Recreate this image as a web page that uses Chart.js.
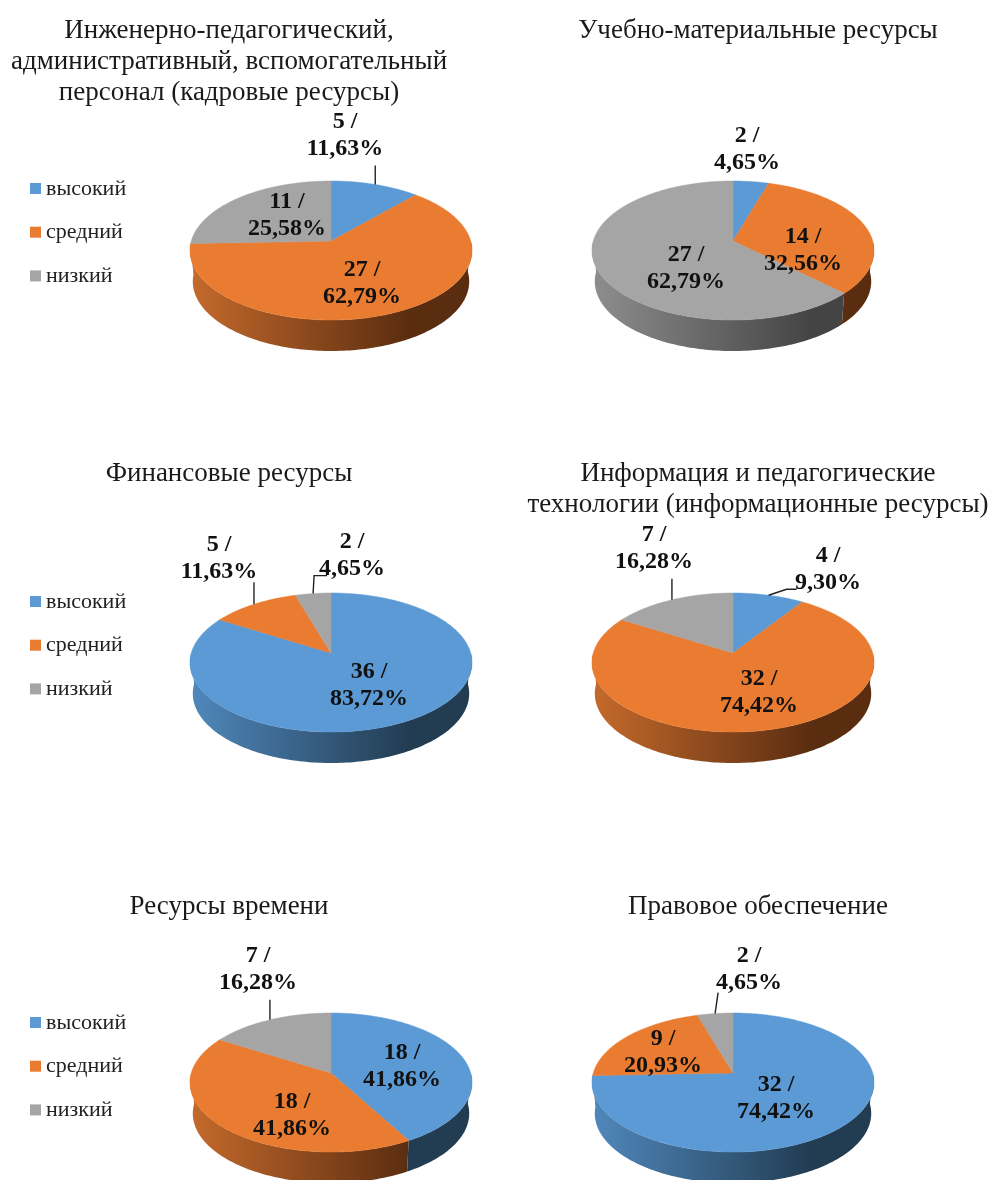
<!DOCTYPE html>
<html>
<head>
<meta charset="utf-8">
<script src="https://cdn.jsdelivr.net/npm/chart.js@4"></script>
<style>
html,body{margin:0;padding:0;background:#fff;overflow:hidden}
body{position:relative;width:992px;height:1180px}
canvas{position:absolute;filter:blur(.6px)}
</style>
</head>
<body>
<script>
const levels = ['высокий', 'средний', 'низкий'];

const staffValues = [5, 27, 11];
const materialValues = [2, 14, 27];
const financeValues = [36, 5, 2];
const infoValues = [4, 32, 7];
const timeValues = [18, 18, 7];
const legalValues = [32, 9, 2];

const staffTitle = ['Инженерно-педагогический,', 'административный, вспомогательный', 'персонал (кадровые ресурсы)'];
const materialTitle = ['Учебно-материальные ресурсы'];
const financeTitle = ['Финансовые ресурсы'];
const infoTitle = ['Информация и педагогические', 'технологии (информационные ресурсы)'];
const timeTitle = ['Ресурсы времени'];
const legalTitle = ['Правовое обеспечение'];

const colors = ['#5B9AD5', '#EA7C31', '#A5A5A5'];
const wallLight = ['#5088BC', '#C56A2C', '#8E8E8E'];
const wallDark = ['#223C52', '#5A2D10', '#444444'];

const FONT = '"Liberation Serif", "Times New Roman", serif';

// shape of the tilted pie
const RX = 139.7, RY = 68.2, PERSP = 0.137, DEPTH = 31, SHRINK = 0.98, OUTER = 141;

function project(cx, cy, angle) {
	const u = Math.cos(angle), v = -Math.sin(angle);
	const s = 1 / (1 + PERSP * v);
	return [cx + RX * u * s, cy - RY * v * s];
}

function arcPoints(cx, cy, a0, a1) {
	const pts = [];
	const steps = Math.max(2, Math.ceil((a1 - a0) / 0.02));
	for (let i = 0; i <= steps; i++) {
		pts.push(project(cx, cy, a0 + (a1 - a0) * i / steps));
	}
	return pts;
}

function tracePoints(ctx, pts) {
	pts.forEach((p, i) => i ? ctx.lineTo(p[0], p[1]) : ctx.moveTo(p[0], p[1]));
}

const tiltPie = {
	id: 'tiltPie',
	beforeDatasetsDraw(chart, args, opts) {
		const ctx = chart.ctx;
		const cx = opts.cx, cy = opts.cy;
		const arcs = chart.getDatasetMeta(0).data;
		const values = chart.data.datasets[0].data;
		const total = values.reduce((a, b) => a + b, 0);
		const angles = arcs.map(a => a.getProps(['startAngle', 'endAngle'], true));

		// side wall, only the front half of the rim shows
		arcs.forEach((a, i) => {
			const a0 = Math.max(angles[i].startAngle, 0);
			const a1 = Math.min(angles[i].endAngle, Math.PI);
			if (a1 <= a0) return;
			const top = arcPoints(cx, cy, a0, a1);
			const bottom = top.map(p => [cx + (p[0] - cx) * SHRINK, p[1] + DEPTH]).reverse();
			const grad = ctx.createLinearGradient(cx - OUTER, 0, cx + OUTER, 0);
			grad.addColorStop(0, wallLight[i]);
			grad.addColorStop(0.78, wallDark[i]);
			grad.addColorStop(1, wallDark[i]);
			ctx.beginPath();
			tracePoints(ctx, top.concat(bottom));
			ctx.closePath();
			ctx.fillStyle = grad;
			ctx.fill();
		});

		// top face
		arcs.forEach((a, i) => {
			ctx.beginPath();
			ctx.moveTo(cx, cy);
			arcPoints(cx, cy, angles[i].startAngle, angles[i].endAngle).forEach(p => ctx.lineTo(p[0], p[1]));
			ctx.closePath();
			ctx.fillStyle = colors[i];
			ctx.strokeStyle = colors[i];
			ctx.lineWidth = 0.5;
			ctx.fill();
			ctx.stroke();
		});

		// leader lines
		ctx.strokeStyle = '#222';
		ctx.lineWidth = 1.4;
		arcs.forEach((a, i) => {
			const bend = opts.leaders[i];
			if (!bend) return;
			const start = project(cx, cy, (angles[i].startAngle + angles[i].endAngle) / 2);
			ctx.beginPath();
			ctx.moveTo(start[0], start[1]);
			bend.forEach(b => ctx.lineTo(start[0] + b[0], start[1] + b[1]));
			ctx.stroke();
		});

		// value labels
		ctx.fillStyle = '#111';
		ctx.font = 'bold 24px ' + FONT;
		ctx.textAlign = 'center';
		ctx.textBaseline = 'middle';
		values.forEach((v, i) => {
			const pct = (v / total * 100).toFixed(2).replace('.', ',') + '%';
			const x = cx + opts.labels[i][0], y = cy + opts.labels[i][1];
			ctx.fillText(v + ' /', x, y - 13);
			ctx.fillText(pct, x, y + 14);
		});

		// legend
		if (opts.legendY !== null) {
			ctx.textAlign = 'left';
			chart.data.labels.forEach((label, i) => {
				const y = opts.legendY + i * 43.7;
				ctx.fillStyle = colors[i];
				ctx.fillRect(30, y - 6, 11, 11);
				ctx.fillStyle = '#222';
				ctx.font = '22px ' + FONT;
				ctx.fillText(label, 46, y);
			});
		}
		return false;
	}
};

function makePie(left, top, width, height, padRight, title, values, cx, cy, legendY, labels, leaders) {
	const canvas = document.createElement('canvas');
	canvas.width = width;
	canvas.height = height;
	canvas.style.left = left + 'px';
	canvas.style.top = top + 'px';
	document.body.appendChild(canvas);
	return new Chart(canvas.getContext('2d'), {
		type: 'pie',
		data: {
			labels: levels,
			datasets: [{ data: values, backgroundColor: colors, borderWidth: 0 }]
		},
		plugins: [tiltPie],
		options: {
			responsive: false,
			animation: false,
			events: [],
			layout: { padding: { right: padRight } },
			plugins: {
				legend: { display: false },
				tooltip: { enabled: false },
				title: {
					display: true,
					text: title,
					color: '#1a1a1a',
					padding: { top: 15, bottom: 0 },
					font: { family: FONT, size: 27, weight: 'normal', lineHeight: 1.15 }
				},
				tiltPie: { cx, cy, legendY, labels, leaders }
			}
		}
	});
}

makePie(0, 0, 490, 443, 32, staffTitle, staffValues, 331, 241, 189,
	[[14, -106], [31, 42], [-44, -26]], [[[0, -19]], null, null]);
makePie(524, 0, 468, 443, 0, materialTitle, materialValues, 209, 241, null,
	[[14, -92], [70, 9], [-47, 27]], [null, null, null]);
makePie(0, 443, 490, 433, 32, financeTitle, financeValues, 331, 210, 159,
	[[38, 32], [-112, -95], [21, -98]], [null, [[0, -22]], [[1, -18], [14, -18]]]);
makePie(524, 443, 468, 433, 0, infoTitle, infoValues, 209, 210, null,
	[[95, -84], [26, 39], [-79, -105]], [[[18, -6], [28, -6]], null, [[0, -21]]]);
makePie(0, 876, 490, 304, 32, timeTitle, timeValues, 331, 197, 147,
	[[71, -7], [-39, 42], [-73, -104]], [null, null, [[0, -20]]]);
makePie(524, 876, 468, 304, 0, legalTitle, legalValues, 209, 197, null,
	[[43, 25], [-70, -21], [16, -104]], [null, null, [[3, -21]]]);
</script>
</body>
</html>
